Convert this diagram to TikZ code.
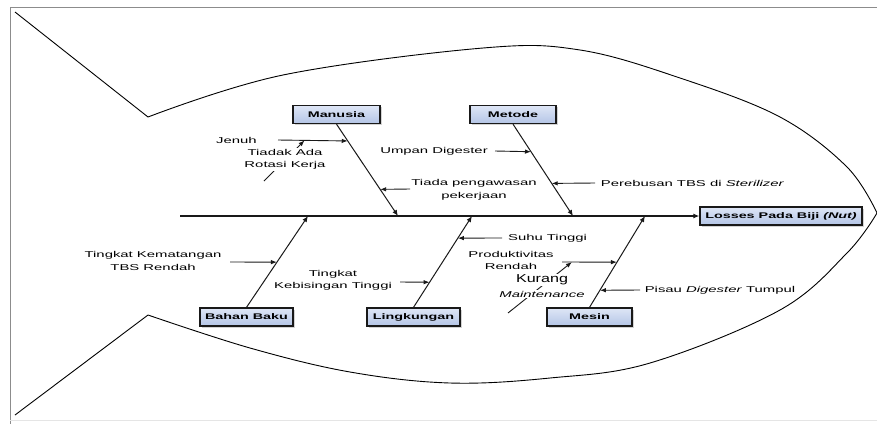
\documentclass[tikz,border=0pt]{standalone}
\usepackage{fontspec}
\setsansfont{Liberation Sans}[FakeStretch=1.75]
\newfontfamily\kurangfont{Liberation Sans}[FakeStretch=1.4]
\usepackage{tikz}
\usetikzlibrary{arrows.meta, shadows, calc}

\definecolor{boxblue}{RGB}{180,197,230}
\definecolor{boxtop}{RGB}{222,230,246}

\tikzset{
  every node/.style={font=\sffamily\fontsize{8.5}{12.5}\selectfont, text=black},
  cause/.style={draw=black!90, line width=1.3pt, top color=boxtop, bottom color=boxblue,
    minimum height=18pt, inner sep=1pt, font=\sffamily\bfseries\fontsize{8.2}{10}\selectfont,
    drop shadow={shadow xshift=1.5pt, shadow yshift=-1.5pt, opacity=0.35}},
  bone/.style={-{Latex[length=6pt,width=5pt]}, line width=1pt, black!90},
  sub/.style={-{Latex[length=6pt,width=4.5pt]}, line width=0.9pt, black!90},
  txt/.style={align=center, inner sep=1pt},
  mask/.style={txt, fill=white},
}

\begin{document}
\begin{tikzpicture}[x=1pt, y=-1pt]
\useasboundingbox (0,0) rectangle (877,424);
\draw [black!45] (877,7) -- (10,7) -- (10,424);
\draw [black!10] (10,420) -- (877,420);

% fish outline
\draw [line width=0.9pt] (15,12) -- plot [smooth, tension=0.6] coordinates {(148,117) (283,75) (483,48) (580,50) (680,78) (780,117) (847,167) (877,213)};
\draw [line width=0.9pt] (15,415) -- plot [smooth, tension=0.6] coordinates {(148,315) (250,348) (350,372) (450,383) (550,378) (650,363) (780,310) (847,253) (877,213)};

% boxes
\node [cause, minimum width=87pt] (manusia) at (336.5,114.5) {Manusia};
\node [cause, minimum width=86pt] (metode) at (513,114.5) {Metode};
\node [cause, minimum width=93pt] (bahan) at (246.5,317) {Bahan Baku};
\node [cause, minimum width=93pt] (lingkungan) at (413.5,317) {Lingkungan};
\node [cause, minimum width=85pt] (mesin) at (589.5,317) {Mesin};
\node [cause, minimum width=162pt] (losses) at (781,216) {Losses Pada Biji \textit{(Nut)}};

% spine and bones
\coordinate (tailend) at (180,216);
\coordinate (m1) at (398,216);
\coordinate (m2) at (573,216);
\coordinate (m3) at (308,216);
\coordinate (m4) at (472,216);
\coordinate (m5) at (645,216);
\draw [bone, line width=1.2pt] (tailend) -- (losses.west);
\draw [bone] (manusia.south) -- (m1);
\draw [bone] (metode.south) -- (m2);
\draw [bone] (bahan.north) -- (m3);
\draw [bone] (lingkungan.north) -- (m4);
\draw [bone] (mesin.north) -- (m5);

% Manusia
\coordinate (jenuh-s) at (278,140);
\coordinate (jenuh-e) at ($(manusia.south)!0.183!(m1)$);
\coordinate (tiadak-s) at (264,181);
\coordinate (tiadak-e) at ($(jenuh-s)!0.38!(jenuh-e)$);
\coordinate (tiada-s) at (410,189);
\coordinate (tiada-e) at ($(manusia.south)!0.71!(m1)$);
\draw [sub] (jenuh-s) -- (jenuh-e);
\draw [sub] (tiadak-s) -- (tiadak-e);
\draw [sub] (tiada-s) -- (tiada-e);
\node [txt] (jenuh) at (236.5,140) {Jenuh};
\node [mask] (tiadak) at (285,159.5) {Tiadak Ada\\Rotasi Kerja};
\node [txt] (tiada) at (474,190) {Tiada pengawasan\\pekerjaan};

% Metode
\coordinate (umpan-s) at (495,151);
\coordinate (umpan-e) at ($(metode.south)!0.30!(m2)$);
\coordinate (rebus-s) at (595,183);
\coordinate (rebus-e) at ($(metode.south)!0.645!(m2)$);
\draw [sub] (umpan-s) -- (umpan-e);
\draw [sub] (rebus-s) -- (rebus-e);
\node [txt] (umpan) at (434,151) {Umpan Digester};
\node [txt] (rebus) at (692.5,183) {Perebusan TBS di \textit{Sterilizer}};

% Bahan Baku
\coordinate (matang-s) at (230,262);
\coordinate (matang-e) at ($(bahan.north)!0.495!(m3)$);
\draw [sub] (matang-s) -- (matang-e);
\node [txt] (matang) at (153,261) {Tingkat Kematangan\\TBS Rendah};

% Lingkungan
\coordinate (bising-s) at (400,282);
\coordinate (bising-e) at ($(lingkungan.north)!0.275!(m4)$);
\coordinate (suhu-s) at (502,238);
\coordinate (suhu-e) at ($(lingkungan.north)!0.758!(m4)$);
\draw [sub] (bising-s) -- (bising-e);
\draw [sub] (suhu-s) -- (suhu-e);
\node [txt] (bising) at (333,280.5) {Tingkat\\Kebisingan Tinggi};
\node [txt] (suhu) at (547.5,238) {Suhu Tinggi};

% Mesin
\coordinate (produk-s) at (562,262);
\coordinate (produk-e) at ($(mesin.north)!0.495!(m5)$);
\coordinate (kurang-s) at (508,313);
\coordinate (kurang-e) at ($(produk-s)!0.18!(produk-e)$);
\coordinate (pisau-s) at (640,290);
\coordinate (pisau-e) at ($(mesin.north)!0.187!(m5)$);
\draw [sub] (produk-s) -- (produk-e);
\draw [sub] (kurang-s) -- (kurang-e);
\draw [sub] (pisau-s) -- (pisau-e);
\node [txt] (produk) at (511,260.5) {Produktivitas\\Rendah};
\node [mask] (kurang) at (542,280) {\kurangfont\fontsize{11.5}{12}\selectfont Kurang};
\node [mask] (maint) at (542,294) {\textit{Maintenance}};
\node [txt] (pisau) at (720,290) {Pisau \textit{Digester} Tumpul};
\end{tikzpicture}
\end{document}
